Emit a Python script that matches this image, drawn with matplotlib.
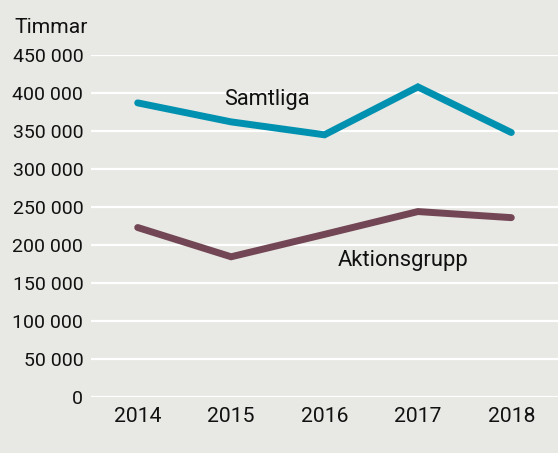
import matplotlib
matplotlib.use("Agg")
import matplotlib.pyplot as plt

years = [2014, 2015, 2016, 2017, 2018]
samtliga = [387000, 362000, 345000, 408000, 348000]
aktionsgrupp = [223000, 184500, 214000, 244000, 236000]
yticks = [0, 50000, 100000, 150000, 200000, 250000, 300000, 350000, 400000, 450000]
ytick_labels = ["0", "50 000", "100 000", "150 000", "200 000", "250 000",
                "300 000", "350 000", "400 000", "450 000"]

bg = "#e8e8e4"
plt.rcParams['font.family'] = ['Roboto', 'DejaVu Sans']

fig = plt.figure(figsize=(5.58, 4.53), dpi=100, facecolor=bg)
ax = fig.add_axes([91/558, 1 - 397/453, 1 - 91/558, (397 - 55)/453], facecolor=bg)

for y in yticks:
    ax.axhline(y, color="white", lw=1.6, zorder=1)

ax.plot(years, samtliga, color="#0091b0", lw=5, solid_capstyle="round",
        solid_joinstyle="miter", zorder=3)
ax.plot(years, aktionsgrupp, color="#734656", lw=5, solid_capstyle="round",
        solid_joinstyle="miter", zorder=3)

ax.text(2015.38, 384000, "Samtliga", fontsize=15.7, ha="center", va="baseline", color="#111111")
ax.text(2016.84, 172500, "Aktionsgrupp", fontsize=15.8, ha="center", va="baseline", color="#111111")

ax.set_xlim(2013.5, 2018.5)
ax.set_ylim(0, 450000)
ax.set_yticks(yticks)
ax.set_yticklabels(ytick_labels)
ax.set_xticks(years)
ax.set_xticklabels([str(y) for y in years])
ax.tick_params(axis="both", length=0, colors="#111111")
ax.tick_params(axis="y", pad=5.5, labelsize=14)
ax.tick_params(axis="x", pad=7, labelsize=15.2)
for s in ax.spines.values():
    s.set_visible(False)

fig.text(14/558, 1 - 33/453, "Timmar", fontsize=15.2, ha="left", va="baseline", color="#111111")

fig.savefig("out.png", dpi=100, facecolor=bg)
